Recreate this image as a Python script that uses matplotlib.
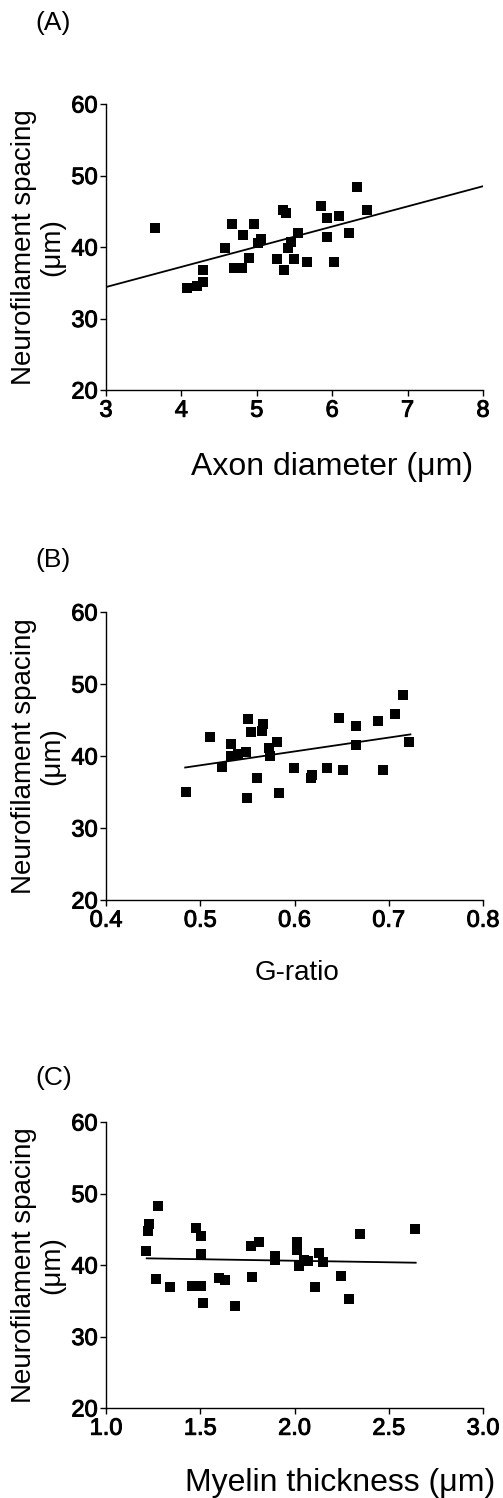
import matplotlib
matplotlib.use("Agg")
import matplotlib.pyplot as plt
import matplotlib.patheffects as pe
import numpy as np

plt.rcParams['font.family'] = ['Liberation Sans', 'DejaVu Sans']

# ---- Panel A: Axon diameter vs spacing ----
axon_x = [3.65, 4.08, 4.21, 4.28, 4.29, 4.58, 4.67, 4.70, 4.81, 4.82, 4.89,
          4.96, 5.01, 5.05, 5.27, 5.35, 5.39, 5.36, 5.42, 5.45, 5.49, 5.54,
          5.66, 5.85, 5.93, 5.93, 6.02, 6.09, 6.22, 6.33, 6.46]
axon_y = [42.6, 34.2, 34.6, 35.1, 36.8, 39.8, 43.2, 37.1, 37.1, 41.7, 38.4,
          43.2, 40.5, 41.1, 38.3, 45.2, 44.8, 36.8, 39.8, 40.7, 38.3, 41.9,
          37.9, 45.8, 44.0, 41.4, 37.9, 44.4, 42.0, 48.4, 45.2]
axon_fit_x = [3.0, 8.0]
axon_fit_y = [34.4, 48.5]

# ---- Panel B: G-ratio vs spacing ----
g_x = [0.485, 0.510, 0.523, 0.533, 0.533, 0.540, 0.549, 0.550, 0.551, 0.554,
       0.560, 0.565, 0.567, 0.573, 0.574, 0.581, 0.584, 0.599, 0.618, 0.619,
       0.634, 0.647, 0.651, 0.665, 0.665, 0.689, 0.694, 0.707, 0.715, 0.722]
g_y = [35.0, 42.7, 38.5, 41.6, 40.0, 40.3, 40.6, 34.2, 45.1, 43.4,
       36.9, 43.5, 44.4, 41.1, 40.0, 42.0, 34.8, 38.4, 37.0, 37.3,
       38.3, 45.3, 38.0, 44.1, 41.5, 44.8, 38.1, 45.9, 48.5, 42.0]
g_fit_x = [0.484, 0.723]
g_fit_y = [38.4, 43.0]

# ---- Panel C: Myelin thickness vs spacing ----
m_x = [1.212, 1.221, 1.230, 1.274, 1.265, 1.337, 1.475, 1.504, 1.505, 1.458,
       1.502, 1.516, 1.597, 1.631, 1.682, 1.770, 1.814, 1.777, 1.894, 1.894,
       2.011, 2.012, 2.025, 2.049, 2.069, 2.131, 2.152, 2.108, 2.247, 2.290,
       2.346, 2.640]
m_y = [41.9, 44.7, 45.8, 48.2, 38.0, 36.9, 45.2, 44.0, 41.5, 37.1,
       37.0, 34.7, 38.2, 37.9, 34.3, 42.6, 43.2, 38.3, 41.2, 40.7,
       43.2, 42.1, 39.9, 40.7, 40.6, 41.7, 40.4, 36.9, 38.5, 35.2,
       44.3, 45.1]
m_fit_x = [1.216, 2.643]
m_fit_y = [40.93, 40.32]

y_ticks = [20, 30, 40, 50, 60]
ylabel = "Neurofilament spacing\n(\u03bcm)"

panels = [
    dict(x=axon_x, y=axon_y, fx=axon_fit_x, fy=axon_fit_y, xlim=(3, 8),
         xticks=[3, 4, 5, 6, 7, 8], xticklabels=['3', '4', '5', '6', '7', '8'],
         top=104, bottom=390, tag='(A)', tag_y=23,
         xlabel='Axon diameter (\u03bcm)', xl_x=332, xl_y=467, xl_size=23),
    dict(x=g_x, y=g_y, fx=g_fit_x, fy=g_fit_y, xlim=(0.4, 0.8),
         xticks=[0.4, 0.5, 0.6, 0.7, 0.8], xticklabels=['0.4', '0.5', '0.6', '0.7', '0.8'],
         top=612, bottom=900, tag='(B)', tag_y=560,
         xlabel='G-ratio', xl_x=297, xl_y=973, xl_size=20),
    dict(x=m_x, y=m_y, fx=m_fit_x, fy=m_fit_y, xlim=(1.0, 3.0),
         xticks=[1.0, 1.5, 2.0, 2.5, 3.0], xticklabels=['1.0', '1.5', '2.0', '2.5', '3.0'],
         top=1122, bottom=1408, tag='(C)', tag_y=1078,
         xlabel='Myelin thickness (\u03bcm)', xl_x=340, xl_y=1483, xl_size=23),
]

W, H = 503, 1498
fig = plt.figure(figsize=(W / 100, H / 100), dpi=100)
left_px, right_px = 106, 483
thick = [pe.withStroke(linewidth=0.7, foreground='black')]

for p in panels:
    ax = fig.add_axes([left_px / W, 1 - p['bottom'] / H,
                       (right_px - left_px) / W, (p['bottom'] - p['top']) / H])
    ax.plot(p['x'], p['y'], linestyle='none', marker='s', markersize=7,
            color='black', markeredgewidth=0, clip_on=False)
    ax.plot(p['fx'], p['fy'], color='black', linewidth=1.3)
    ax.set_xlim(*p['xlim'])
    ax.set_ylim(20, 60)
    ax.set_xticks(p['xticks'])
    ax.set_xticklabels(p['xticklabels'])
    ax.set_yticks(y_ticks)
    for s in ['top', 'right']:
        ax.spines[s].set_visible(False)
    for s in ['left', 'bottom']:
        ax.spines[s].set_linewidth(1.0)
    ax.tick_params(axis='both', direction='out', length=4, width=1.0,
                   labelsize=17, pad=2)
    ax.tick_params(axis='x', pad=3)
    for lab in ax.get_xticklabels() + ax.get_yticklabels():
        lab.set_path_effects(thick)
    ax.text(38 / W, 1 - ((p['top'] + p['bottom']) / 2) / H, ylabel,
            transform=fig.transFigure, rotation=90, ha='center', va='center',
            multialignment='center', fontsize=20, linespacing=1.1)
    fig.text(p['xl_x'] / W, 1 - p['xl_y'] / H, p['xlabel'], ha='center',
             va='center', fontsize=p['xl_size'])
    fig.text(35 / W, 1 - p['tag_y'] / H, p['tag'], ha='left', va='center',
             fontsize=19)

fig.savefig('out.png', dpi=100)
